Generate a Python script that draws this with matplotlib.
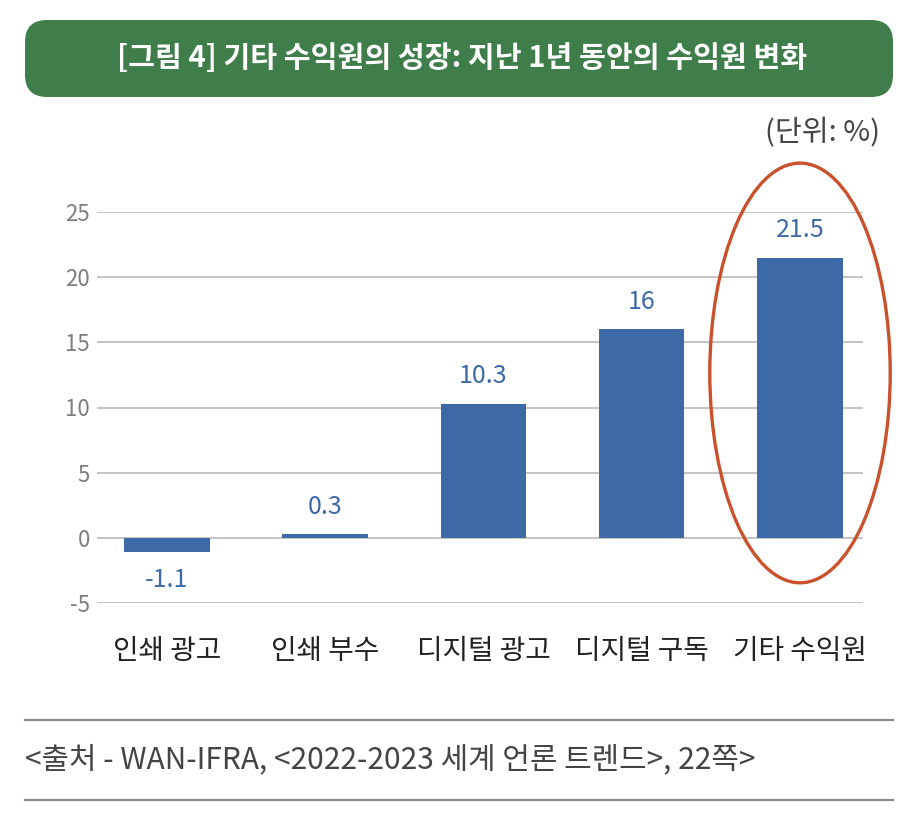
import numpy as np
import matplotlib
matplotlib.use("Agg")
import matplotlib.pyplot as plt
from matplotlib.patches import FancyBboxPatch, Ellipse
from matplotlib.transforms import IdentityTransform
from matplotlib.lines import Line2D

plt.rcParams['font.family'] = ['Noto Sans CJK KR', 'DejaVu Sans']

###############################################################################
# data
categories = ['인쇄 광고', '인쇄 부수', '디지털 광고', '디지털 구독', '기타 수익원']
values     = [-1.1, 0.3, 10.3, 16, 21.5]
labels     = ['-1.1', '0.3', '10.3', '16', '21.5']
yticks     = [-5, 0, 5, 10, 15, 20, 25]

title_txt  = '[그림 4] 기타 수익원의 성장: 지난 1년 동안의 수익원 변화'
unit_txt   = '(단위: %)'
source_txt = '<출처 - WAN-IFRA, <2022-2023 세계 언론 트렌드>, 22쪽>'

###############################################################################
W, H = 924, 831
fig = plt.figure(figsize=(W/100, H/100), dpi=100)
ax = fig.add_axes([97/W, 1-603/H, (863-97)/W, (603-212)/H])

bar_col = '#3D6AA7'
x = np.arange(len(categories))
ax.bar(x, values, width=0.54, color=bar_col, zorder=3)

for xi, v, lab in zip(x, values, labels):
    if v >= 0:
        ax.text(xi, v + 1.1, lab, ha='center', va='bottom', fontsize=18, color=bar_col)
    else:
        ax.text(xi, v - 1.1, lab, ha='center', va='top', fontsize=18, color=bar_col)

ax.set_xlim(-0.442, 4.398)
ax.set_ylim(-5, 25)
ax.set_yticks(yticks)
ax.set_yticklabels([str(t) for t in yticks], fontsize=16, color='#7f7f7f')
ax.set_xticks(x)
ax.set_xticklabels(categories, fontsize=20, color='#222222')
ax.tick_params(axis='y', length=0, pad=5)
ax.tick_params(axis='x', length=0, pad=24)
ax.grid(axis='y', color='#b4b4b4', linewidth=1.1, zorder=0)
for s in ax.spines.values():
    s.set_visible(False)

# red ellipse round last bar
ell = Ellipse((4, 12.65), width=1.14, height=32.2, fill=False,
              edgecolor='#C9512B', linewidth=2.4, clip_on=False, zorder=4)
ax.add_patch(ell)

# green title banner (pixel coords)
banner = FancyBboxPatch((25, H-97), 868, 77, boxstyle="round,pad=0,rounding_size=22",
                        facecolor='#3F7D4A', edgecolor='none', transform=IdentityTransform())
fig.add_artist(banner)
fig.text(462/W, 1-58/H, title_txt, ha='center', va='center', fontsize=21,
         fontweight='bold', color='white')

fig.text(880/W, 1-133/H, unit_txt, ha='right', va='center', fontsize=21, color='#444444')

# bottom source lines
for yy in (720, 800):
    fig.add_artist(Line2D([25/W, 893/W], [1-yy/H, 1-yy/H], color='#8a8a8a', linewidth=1.6))
fig.text(25/W, 1-760/H, source_txt, ha='left', va='center', fontsize=21.5, color='#444444')

fig.savefig('out.png', dpi=100)
